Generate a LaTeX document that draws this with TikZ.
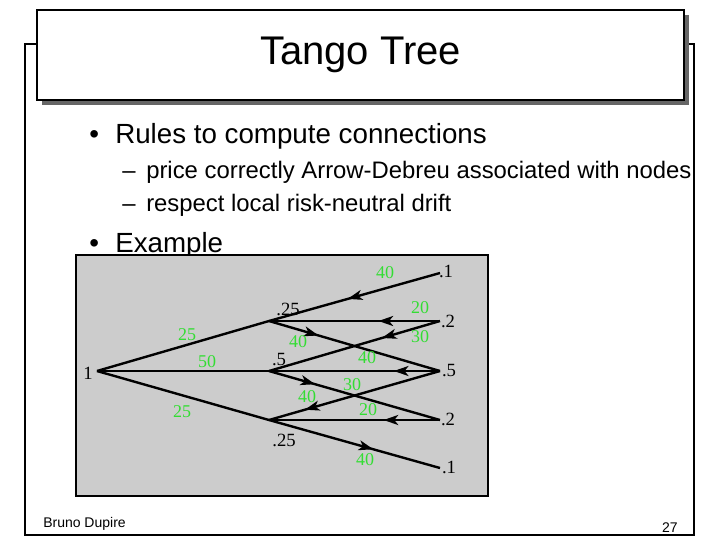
\documentclass[tikz,border=0pt]{standalone}
\usepackage{fontspec}
\setmainfont{Liberation Sans}
\newfontfamily\treefont{Liberation Serif}
\usetikzlibrary{arrows.meta,decorations.markings}
\definecolor{panelgray}{RGB}{204,204,204}
\definecolor{shadowgray}{RGB}{102,102,102}
\definecolor{ratelabel}{RGB}{51,221,51}

\begin{document}
\begin{tikzpicture}[
  x=0.75pt, y=-0.75pt,
  branch/.style={line width=1.8pt},
  flow/.style={branch, postaction={decorate, decoration={markings,
      mark=at position #1 with {\arrow{Stealth[length=11pt,width=7.5pt,inset=3pt]}}}}},
  prob/.style={font=\treefont\fontsize{14}{14}\selectfont, inner sep=0pt},
  rate/.style={font=\treefont\fontsize{13.5}{14}\selectfont, text=ratelabel, inner sep=0pt},
  bullet/.style={anchor=base west, inner sep=0pt, font=\fontsize{20.8}{24}\selectfont},
  subbullet/.style={anchor=base west, inner sep=0pt, font=\fontsize{17.9}{22}\selectfont},
]
  \useasboundingbox (0,0) rectangle (720,540);

  % slide frame and title
  \draw[line width=2pt] (25,44) rectangle (694,535);
  \fill[shadowgray] (42,15) rectangle (689,105);
  \draw[line width=2.2pt, fill=white] (37,10) rectangle (684,100);
  \node[font=\fontsize{30}{36}\selectfont] (title) at (360.5,55) {Tango Tree};

  % bullets
  \node[bullet] (dotrules) at (89,143) {•};
  \node[bullet] (rules) at (115,143) {Rules to compute connections};
  \node[subbullet] (dashprice) at (122,178) {–};
  \node[subbullet] (price) at (146,178) {price correctly Arrow-Debreu associated with nodes};
  \node[subbullet] (dashdrift) at (122,211) {–};
  \node[subbullet] (drift) at (146,211) {respect local risk-neutral drift};
  \node[bullet] (dotexample) at (89,252) {•};
  \node[bullet] (example) at (115,252) {Example};

  % example panel
  \draw[line width=1.5pt, fill=panelgray] (76,255) rectangle (488,496);

  \coordinate (root) at (97,371);
  \coordinate (up) at (269,321);
  \coordinate (mid) at (269,371);
  \coordinate (down) at (269,420);
  \coordinate (t1) at (440,273);
  \coordinate (t2) at (440,321);
  \coordinate (t3) at (440,371);
  \coordinate (t4) at (440,420);
  \coordinate (t5) at (440,468);

  \draw[branch] (root) -- (up);
  \draw[branch] (root) -- (mid);
  \draw[branch] (root) -- (down);
  \draw[flow=0.54] (t1) -- (up);
  \draw[flow=0.36] (t2) -- (up);
  \draw[flow=0.34] (t2) -- (mid);
  \draw[flow=0.29] (up) -- (t3);
  \draw[flow=0.27] (t3) -- (mid);
  \draw[flow=0.27] (mid) -- (t4);
  \draw[flow=0.79] (t3) -- (down);
  \draw[flow=0.33] (t4) -- (down);
  \draw[flow=0.61] (down) -- (t5);

  % state prices
  \node[prob] (p0) at (88,373) {1};
  \node[prob] (pup) at (288,309) {.25};
  \node[prob] (pmid) at (279,360) {.5};
  \node[prob] (pdown) at (284,440) {.25};
  \node[prob] (p1) at (446,271) {.1};
  \node[prob] (p2) at (448,321) {.2};
  \node[prob] (p3) at (449,371) {.5};
  \node[prob] (p4) at (448,419) {.2};
  \node[prob] (p5) at (449,467) {.1};

  % values on connections
  \node[rate] (r1up) at (385,273) {40};
  \node[rate] (r2up) at (420,308) {20};
  \node[rate] (r2mid) at (420,337) {30};
  \node[rate] (rrootup) at (187,335) {25};
  \node[rate] (rup3) at (298,342) {40};
  \node[rate] (rrootmid) at (207,362) {50};
  \node[rate] (r3mid) at (367,358) {40};
  \node[rate] (rmid4) at (352,385) {30};
  \node[rate] (r3down) at (307,397) {40};
  \node[rate] (rrootdown) at (182,412) {25};
  \node[rate] (r4down) at (368,410) {20};
  \node[rate] (rdown5) at (365,460) {40};

  % footer
  \node[anchor=base west, inner sep=0pt, font=\fontsize{10.5}{12}\selectfont] (author) at (43,527) {Bruno Dupire};
  \node[anchor=base east, inner sep=0pt, font=\fontsize{10.5}{12}\selectfont] (page) at (678,532) {27};
\end{tikzpicture}
\end{document}
